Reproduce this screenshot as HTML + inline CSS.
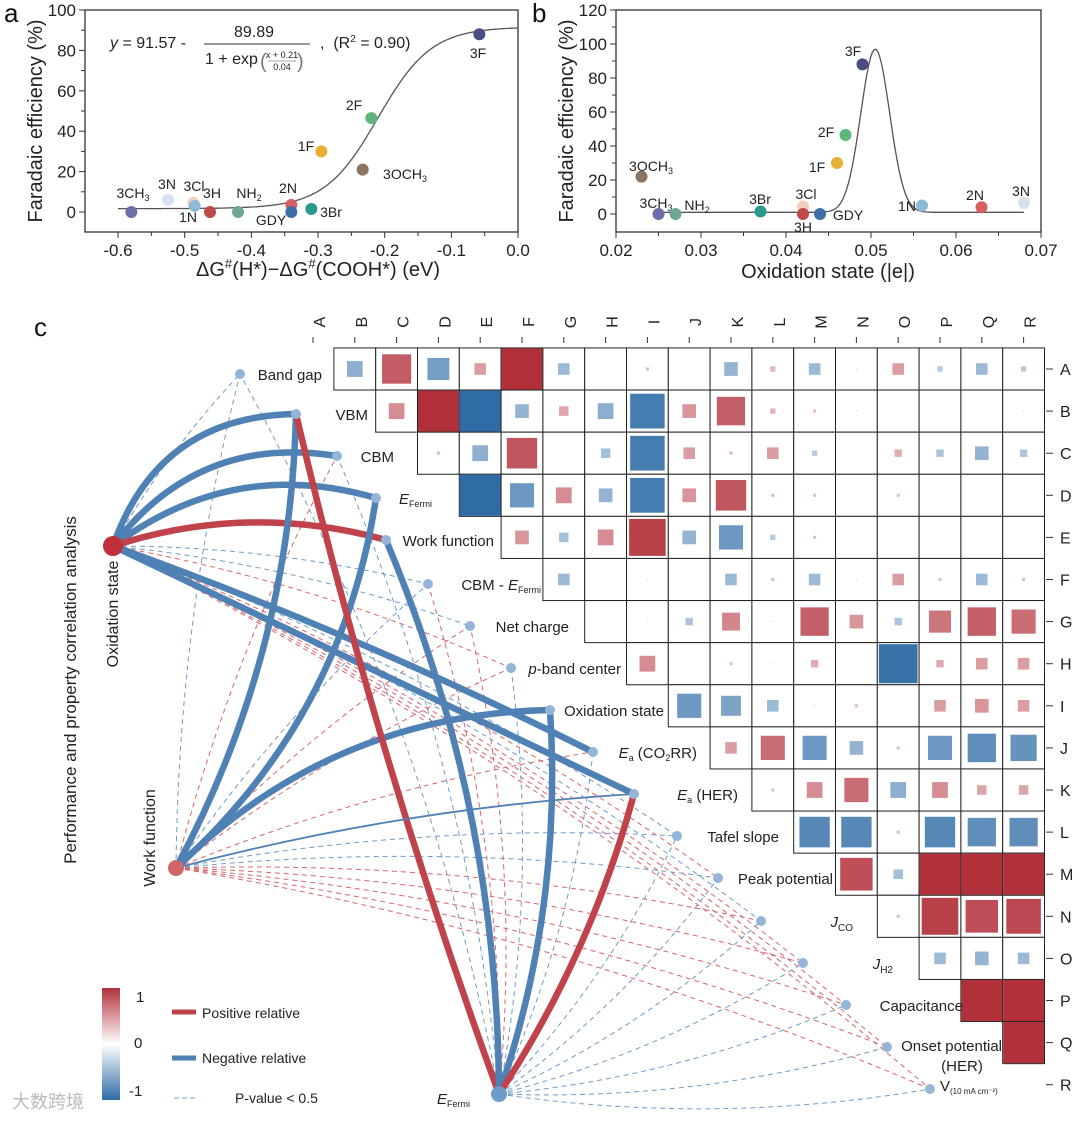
<!DOCTYPE html>
<html><head><meta charset="utf-8"><style>
body{margin:0;background:#fff}
svg{display:block;font-family:"Liberation Sans","Noto Sans CJK SC",sans-serif}
</style></head><body>
<svg id="fig" width="1080" height="1122" viewBox="0 0 1080 1122" xmlns="http://www.w3.org/2000/svg">
<g id="pa"></g>
<g id="pb"></g>
<g id="pc"></g>
</svg>
<script>
// ---- panel a data ----
const aNames=["3CH3","3N","3Cl","1N","3H","NH2","2N","GDY","3Br","1F","3OCH3","2F","3F"];
const aX=[-0.58,-0.525,-0.487,-0.485,-0.462,-0.42,-0.34,-0.34,-0.31,-0.295,-0.233,-0.22,-0.058];
const aY=[0,6,4.5,3,0,0,3.5,0,1.5,30,21,46.5,88];
const aXTicks=[-0.6,-0.5,-0.4,-0.3,-0.2,-0.1,0.0];
const aYTicks=[0,20,40,60,80,100];
// ---- panel b data ----
const bNames=["3OCH3","3CH3","NH2","3Br","3Cl","3H","GDY","1F","2F","3F","1N","2N","3N"];
const bX=[0.023,0.025,0.027,0.037,0.042,0.042,0.044,0.046,0.047,0.049,0.056,0.063,0.068];
const bY=[22,0,0,1.5,4.5,0,0,30,46.5,88,5,4,6.5];
const bXTicks=[0.02,0.03,0.04,0.05,0.06,0.07];
const bYTicks=[0,20,40,60,80,100,120];
// ---- panel c data ----
const letters=["A","B","C","D","E","F","G","H","I","J","K","L","M","N","O","P","Q","R"];
const corrRows=[
[-0.4,0.72,-0.55,0.3,1.0,-0.3,0,-0.1,0,-0.35,0.15,-0.3,0.05,0.3,-0.15,-0.3,-0.15],
[0.4,1.0,-1.0,-0.35,0.25,-0.4,-0.85,0.35,0.7,0.15,0.1,0.05,0.03,0.03,0.03,-0.05],
[0.1,-0.4,0.75,0.02,-0.25,-0.85,0.3,0.1,0.3,-0.15,0.02,0.2,-0.2,-0.35,-0.2],
[-1.0,-0.6,0.4,-0.35,-0.85,0.35,0.75,0.1,0.1,0.03,-0.1,0,0,0.02],
[0.35,-0.25,0.4,0.9,-0.35,-0.6,-0.15,-0.1,0.03,0.03,0.03,0.03,0.03],
[-0.3,0,-0.05,0,-0.3,0.1,-0.3,0.05,0.3,-0.1,-0.3,-0.1],
[0,-0.05,-0.2,0.45,0.05,0.7,0.35,-0.2,0.55,0.7,0.6],
[0.4,0,-0.1,0.05,0.2,0,-0.95,0.2,0.3,0.3],
[-0.6,-0.5,-0.3,0.05,0.1,0,0.3,0.35,0.3],
[0.3,0.6,-0.6,-0.35,-0.1,-0.6,-0.7,-0.65],
[-0.1,0.4,0.6,-0.4,0.4,0.25,0.25],
[-0.75,-0.75,-0.1,-0.75,-0.7,-0.7],
[0.8,-0.25,1,1,1],
[-0.1,0.9,0.8,0.85],
[-0.3,-0.35,-0.3],
[1,1],
[1]
];
const props=["Band gap","VBM","CBM","EFermi","Work function","CBM - EFermi","Net charge","p-band center","Oxidation state","Ea (CO2RR)","Ea (HER)","Tafel slope","Peak potential","JCO","JH2","Capacitance","Onset potential","V10"];
// hubs: 0 Oxidation state, 1 Work function, 2 EFermi ; links [hub, propIndex, sign]
const strongLinks=[[0,1,-1],[0,2,-1],[0,3,-1],[0,4,1],[0,9,-1],[0,10,-1],[1,1,-1],[1,3,-1],[1,8,-1],[2,1,1],[2,4,-1],[2,8,-1],[2,10,1]];
const weakLink=[[1,10,-1]];
const dashSigns=["brrrrbbrbrrbrbrrrr","brrrrbrrrrrbbrrrrr","bbbrbrrbbbbbbbbbbb"];

const NS="http://www.w3.org/2000/svg";
function mk(parent,tag,attrs,text){const e=document.createElementNS(NS,tag);for(const k in attrs)e.setAttribute(k,attrs[k]);if(text!==undefined)e.textContent=text;parent.appendChild(e);return e;}
const colorsA={"3CH3":"#6e6cab","3N":"#d5e1ee","3Cl":"#f2cfbd","1N":"#8ebad6","3H":"#c0494a","NH2":"#6fa596","2N":"#d65f62","GDY":"#3e6fa4","3Br":"#279a8d","1F":"#e5af33","3OCH3":"#8b7461","2F":"#5db67a","3F":"#4a4d82"};

function panel(g,xs,ys,box,xT,yT,xDec,names,X,Y,curve,labels,xt,yt){
  mk(g,'rect',{x:box[0],y:box[1],width:box[2]-box[0],height:box[3]-box[1],fill:'none',stroke:'#333','stroke-width':1.3});
  xT.forEach((v,i)=>{const x=xs(v);let t=mk(g,'line',{x1:x,x2:x,y1:box[3],y2:box[3]+6,stroke:'#333'});
    let l=mk(g,'text',{x:x,y:box[3]+24,'text-anchor':'middle','font-size':17,fill:'#222'},v.toFixed(xDec));
    if(i<xT.length-1){const xm=xs((v+xT[i+1])/2);mk(g,'line',{x1:xm,x2:xm,y1:box[3],y2:box[3]+4,stroke:'#333'});}});
  yT.forEach((v,i)=>{const y=ys(v);let t=mk(g,'line',{x1:box[0]-6,x2:box[0],y1:y,y2:y,stroke:'#333'});
    let l=mk(g,'text',{x:box[0]-9,y:y+6,'text-anchor':'end','font-size':17,fill:'#222'},String(v));
    if(i<yT.length-1){const ym=ys((v+yT[i+1])/2);mk(g,'line',{x1:box[0]-4,x2:box[0],y1:ym,y2:ym,stroke:'#333'});}});
  let d='';for(let k=0;k<=200;k++){const v=curve[0]+(curve[1]-curve[0])*k/200;d+=(k?'L':'M')+xs(v).toFixed(1)+','+ys(curve[2](v)).toFixed(1);}
  let p=mk(g,'path',{d:d,fill:'none',stroke:'#555','stroke-width':1.3});
  names.forEach((n,i)=>{let c=mk(g,'circle',{cx:xs(X[i]),cy:ys(Y[i]),r:6,fill:colorsA[n]});
    const L=labels[n];let t=mk(g,'text',{x:L[0],y:L[1],'text-anchor':'middle','font-size':14,fill:'#222'});
    
    if(n==="3CH3"||n==="3OCH3"||n==="NH2"){t.textContent=n.slice(0,-1);mk(t,'tspan',{'font-size':9,dy:3},n.slice(-1));}else t.textContent=n;});
  let a=mk(g,'text',{x:xt[0],y:xt[1],'text-anchor':'middle','font-size':20,fill:'#222'});a.innerHTML=xt[2];
  let b=mk(g,'text',{x:yt[0],y:yt[1],'text-anchor':'middle','font-size':20,fill:'#222',transform:`rotate(-90 ${yt[0]} ${yt[1]})`},'Faradaic efficiency (%)');
}
// panel a
const pa=document.getElementById('pa');
const xa=v=>118+(v+0.6)*666.7, ya=v=>212-v*2.02;
panel(pa,xa,ya,[85,10,518,232],aXTicks,aYTicks,1,aNames,aX,aY,[-0.6,0,v=>91.57-89.89/(1+Math.exp((v+0.21)/0.04))],
{"3CH3":[133,198],"3N":[167,189],"3Cl":[194,191],"1N":[188,222],"3H":[212,198],"NH2":[249,198],"2N":[288,193],"GDY":[271,225],"3Br":[331,217],"1F":[306,151],"3OCH3":[405,179],"2F":[354,110],"3F":[478,58]},
[318,276,'ΔG<tspan font-size="13" dy="-8">#</tspan><tspan dy="8">(H*)−ΔG</tspan><tspan font-size="13" dy="-8">#</tspan><tspan dy="8">(COOH*) (eV)</tspan>'],[42,121]);
mk(pa,'text',{x:4,y:22,'font-size':26,fill:'#111'},'a');
let eq=mk(pa,'g',{});
mk(eq,'text',{x:110,y:48,'font-size':16,fill:'#222'}).innerHTML='<tspan font-style="italic">y</tspan> = 91.57 -';
mk(eq,'text',{x:254,y:37,'font-size':16,'text-anchor':'middle',fill:'#222'},'89.89');
mk(eq,'line',{x1:204,x2:310,y1:44,y2:44,stroke:'#333'});
mk(eq,'text',{x:205,y:64,'font-size':16,fill:'#222'},'1 + exp');
mk(eq,'text',{x:282,y:58,'font-size':9,'text-anchor':'middle',fill:'#222'},'x + 0.21');
mk(eq,'line',{x1:268,x2:296,y1:61,y2:61,stroke:'#555','stroke-width':0.6});
mk(eq,'text',{x:282,y:70,'font-size':9,'text-anchor':'middle',fill:'#222'},'0.04');
mk(eq,'text',{x:260,y:68,'font-size':20,fill:'#777'},'(');mk(eq,'text',{x:297,y:68,'font-size':20,fill:'#777'},')');
mk(eq,'text',{x:320,y:48,'font-size':16,fill:'#222'}).innerHTML=',&#160; (R<tspan font-size="10" dy="-6">2</tspan><tspan dy="6"> = 0.90)</tspan>';
// panel b
const pb=document.getElementById('pb');
const xb=v=>616+(v-0.02)*8500, yb=v=>214-v*1.7;
panel(pb,xb,yb,[616,10,1041,232],bXTicks,bYTicks,2,bNames,bX,bY,[0.025,0.068,v=>1+96*Math.exp(-Math.pow(v-0.0505,2)/(2*0.0017*0.0017))],
{"3OCH3":[651,171],"3CH3":[656,208],"NH2":[697,210],"3Br":[760,204],"3Cl":[806,199],"3H":[803,232],"GDY":[848,220],"1F":[817,172],"2F":[826,137],"3F":[853,56],"1N":[907,211],"2N":[975,200],"3N":[1021,196]},
[828,278,'Oxidation state (|e|)'],[573,121]);
mk(pb,'text',{x:532,y:22,'font-size':26,fill:'#111'},'b');

// ---- panel c ----
const pc=document.getElementById('pc');
const W=41.8,H=42.1,cx=j=>313+W*j,cy=i=>369+H*i;
function col(v){const a=Math.abs(v);const t=v>=0?[178,48,58]:[47,108,166];const c=t.map(x=>Math.round(255+(x-255)*Math.min(1,0.25+0.75*a)));return `rgb(${c})`;}
const net=mk(pc,'g',{});
const hubs=[[113,546],[176,868],[499,1094]];
const nodeX=[240,296,337,376,386,428,470,511,550,593,634,677,718,761,803,846,887,930];
const nodeY=[374,414,456,498,540,584,626,668,710,752,794,836,878,921,963,1005,1047,1089];
const pt=k=>[nodeX[k],nodeY[k]];
function curvePath(a,b,bend){const mx=(a[0]+b[0])/2,my=(a[1]+b[1])/2,dx=b[0]-a[0],dy=b[1]-a[1];return `M${a[0]},${a[1]} Q${mx+dy*bend},${my-dx*bend} ${b[0]},${b[1]}`;}
const strongSet=new Set(strongLinks.map(l=>l[0]+'-'+l[1]).concat(weakLink.map(l=>l[0]+'-'+l[1])));
hubs.forEach((h,hi)=>{for(let k=0;k<18;k++){if(strongSet.has(hi+'-'+k))continue;if(hi===0&&k===8)continue;if(hi===1&&k===4)continue;if(hi===2&&k===3)continue;
  let p=mk(net,'path',{d:curvePath(h,pt(k),hi===2?-0.08:0.06),fill:'none',stroke:dashSigns[hi][k]==='r'?'#d9646b':'#6f9bc8','stroke-width':1,'stroke-dasharray':'5,4'});
  }});
const bends={"0-1":0.35,"0-2":0.3,"0-3":0.25,"0-4":0.15,"0-9":0.03,"0-10":0.0,"1-1":-0.12,"1-3":-0.18,"1-8":0.2,"2-1":0.03,"2-4":-0.1,"2-8":-0.1,"2-10":-0.08};
strongLinks.forEach(l=>{let p=mk(net,'path',{d:curvePath(hubs[l[0]],pt(l[1]),bends[l[0]+'-'+l[1]]||0),fill:'none',stroke:l[2]>0?'#c0424a':'#4f81b5','stroke-width':6.5,'stroke-linecap':'round'});
  });
weakLink.forEach(l=>{let p=mk(net,'path',{d:curvePath(hubs[l[0]],pt(l[1]),0.05),fill:'none',stroke:'#4f81b5','stroke-width':1.8});});
for(let k=0;k<18;k++){const p=pt(k);let c=mk(net,'circle',{cx:p[0],cy:p[1],r:5,fill:'#94b5d8'});}
[[113,546,10,'#c0303a'],[176,868,8,'#d0646a'],[499,1094,8,'#6d9cc9']].forEach(n=>{let c=mk(net,'circle',{cx:n[0],cy:n[1],r:n[2],fill:n[3]});});
// heatmap
const hm=mk(pc,'g',{});
corrRows.forEach((row,i)=>{row.forEach((v,k)=>{const j=i+1+k;
  let bg=mk(hm,'rect',{x:cx(j)-W/2,y:cy(i)-H/2,width:W,height:H,fill:'#fff',stroke:'#222','stroke-width':1});
  const s=Math.abs(v);if(s>0.001){let r=mk(hm,'rect',{x:cx(j)-W*s/2+0.5,y:cy(i)-H*s/2+0.5,width:Math.max(0,W*s-1),height:Math.max(0,H*s-1),fill:col(v)});
  }});});
letters.forEach((L,j)=>{let t=mk(pc,'text',{x:cx(j)+6,y:328,'font-size':16,fill:'#222','text-anchor':'middle',transform:`rotate(-90 ${cx(j)+6} 322)`},L);
  mk(pc,'line',{x1:cx(j),x2:cx(j),y1:337,y2:343,stroke:'#333'});
  let r=mk(pc,'text',{x:1060,y:cy(j)+6,'font-size':16,fill:'#222'},L);
  mk(pc,'line',{x1:1046,x2:1053,y1:cy(j),y2:cy(j),stroke:'#333'});});
// property labels
const lab=[["Band gap",322],["VBM",368],["CBM",394],["E|Fermi",432],["Work function",494],["CBM - E|Fermi",541],["Net charge",569],["p-band center",621],["Oxidation state",664],["E|a| (CO2RR)",697],["E|a| (HER)",738],["Tafel slope",779],["Peak potential",833],["J|CO",853],["J|H2",893],["Capacitance",963],["Onset potential",1002],["V",940]];
lab.forEach((L,k)=>{const y=nodeY[k]+6;let t=mk(pc,'text',{x:L[1],y:y,'text-anchor':'end','font-size':15,fill:'#222'});
  const s=L[0];
  if(s==="E|Fermi")t.innerHTML='<tspan font-style="italic">E</tspan><tspan font-size="9" dy="3">Fermi</tspan>';
  else if(s==="CBM - E|Fermi")t.innerHTML='CBM - <tspan font-style="italic">E</tspan><tspan font-size="9" dy="3">Fermi</tspan>';
  else if(s==="E|a| (CO2RR)")t.innerHTML='<tspan font-style="italic">E</tspan><tspan font-size="9" dy="3">a</tspan><tspan dy="-3"> (CO</tspan><tspan font-size="9" dy="3">2</tspan><tspan dy="-3">RR)</tspan>';
  else if(s==="E|a| (HER)")t.innerHTML='<tspan font-style="italic">E</tspan><tspan font-size="9" dy="3">a</tspan><tspan dy="-3"> (HER)</tspan>';
  else if(s==="J|CO")t.innerHTML='<tspan font-style="italic">J</tspan><tspan font-size="10" dy="4">CO</tspan>';
  else if(s==="J|H2")t.innerHTML='<tspan font-style="italic">J</tspan><tspan font-size="10" dy="4">H2</tspan>';
  else if(s==="p-band center")t.innerHTML='<tspan font-style="italic">p</tspan>-band center';
  else if(s==="Onset potential"){t.setAttribute('y',y-2);t.textContent="Onset potential";let t2=mk(pc,'text',{x:962,y:y+18,'text-anchor':'middle','font-size':15,fill:'#222'},'(HER)');}
  else if(s==="V"){t.setAttribute('text-anchor','start');t.setAttribute('x',940);t.setAttribute('y',y-4);t.innerHTML='V<tspan font-size="8" dy="3">(10 mA cm⁻²)</tspan>';}
  else t.textContent=s;});
// side labels
[["Performance and property correlation analysis",76,690,17],["Oxidation state",118,614,16],["Work function",155,838,16]].forEach(s=>{let t=mk(pc,'text',{x:s[1],y:s[2],'text-anchor':'middle','font-size':s[3],fill:'#222',transform:`rotate(-90 ${s[1]} ${s[2]})`},s[0]);});
let ef=mk(pc,'text',{x:437,y:1104,'font-size':15,fill:'#222'});ef.innerHTML='<tspan font-style="italic">E</tspan><tspan font-size="9" dy="3">Fermi</tspan>';
mk(pc,'text',{x:34,y:336,'font-size':26,fill:'#111'},'c');
// legend
const lg=mk(pc,'g',{});
const defs=mk(lg,'defs',{});const gr=mk(defs,'linearGradient',{id:'cb',x1:0,y1:0,x2:0,y2:1});
mk(gr,'stop',{offset:0,'stop-color':'#b2303a'});mk(gr,'stop',{offset:0.5,'stop-color':'#ffffff'});mk(gr,'stop',{offset:1,'stop-color':'#2f6ca6'});
let cbar=mk(lg,'rect',{x:102,y:988,width:18,height:112,fill:'url(#cb)'});
mk(lg,'text',{x:136,y:1002,'font-size':15,fill:'#222'},'1');mk(lg,'text',{x:134,y:1048,'font-size':15,fill:'#222'},'0');mk(lg,'text',{x:129,y:1096,'font-size':15,fill:'#222'},'-1');
mk(lg,'line',{x1:172,x2:196,y1:1012,y2:1012,stroke:'#c0424a','stroke-width':5});
mk(lg,'text',{x:202,y:1018,'font-size':14,fill:'#222'},'Positive relative');
mk(lg,'line',{x1:172,x2:196,y1:1058,y2:1058,stroke:'#4f81b5','stroke-width':5});
mk(lg,'text',{x:202,y:1063,'font-size':14,fill:'#222'},'Negative relative');
mk(lg,'line',{x1:174,x2:195,y1:1098,y2:1098,stroke:'#6f9bc8','stroke-width':1,'stroke-dasharray':'5,3'});
mk(lg,'text',{x:235,y:1103,'font-size':14,fill:'#222'},'P-value < 0.5');
mk(lg,'text',{x:12,y:1108,'font-size':18,fill:'#bbb'},'大数跨境');
</script>
</body></html>
